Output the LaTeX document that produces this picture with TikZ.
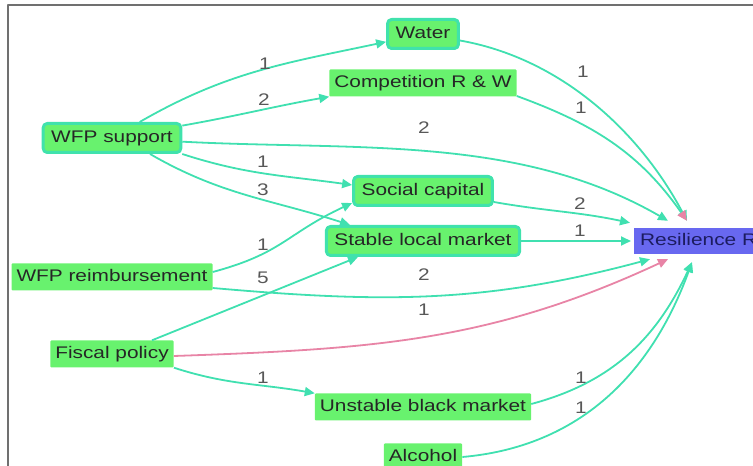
\documentclass[tikz,border=0pt]{standalone}
\usepackage{fontspec}
\setmainfont{Liberation Sans}[FakeStretch=1.24]
\usetikzlibrary{arrows.meta}
\definecolor{factorgreen}{RGB}{104,242,110}
\definecolor{factorrim}{RGB}{64,226,172}
\definecolor{linkteal}{RGB}{64,224,176}
\definecolor{linkpink}{RGB}{232,132,166}
\definecolor{outcomeblue}{RGB}{104,104,240}
\definecolor{outcometext}{RGB}{28,28,96}
\definecolor{weightgray}{RGB}{88,88,88}
\definecolor{framegray}{RGB}{112,112,112}

\begin{document}
\begin{tikzpicture}[x=1pt, y=1pt, line join=round,
  every node/.style={font=\fontsize{16.8}{20}\selectfont},
  factor/.style={fill=factorgreen, text=black!85, rounded corners=1pt,
    inner xsep=5pt, inner ysep=5.5pt, text height=12.5pt, text depth=3.5pt},
  keyfactor/.style={factor, draw=factorrim, line width=3pt,
    rounded corners=4pt, inner xsep=8pt, inner ysep=6.5pt},
  outcome/.style={factor, fill=outcomeblue, text=outcometext,
    rounded corners=0pt, inner xsep=6pt, inner ysep=5pt},
  weight/.style={text=weightgray, inner sep=1pt},
  link/.style={draw=linkteal, line width=1.8pt, -{Triangle[length=10pt,width=9pt]}},
  neglink/.style={link, draw=linkpink}]

\useasboundingbox (0,0) rectangle (753,466);
\draw [framegray, line width=1.5pt] (8,0) -- (8,461) -- (753,461);

\node (water) at (423,432) [keyfactor] {Water};
\node (comp)  at (423,383) [factor] {Competition R \& W};
\node (wfp)   at (112,328) [keyfactor] {WFP support};
\node (soc)   at (423,275) [keyfactor] {Social capital};
\node (stab)  at (423,225) [keyfactor] {Stable local market};
\node (res)   at (634,225) [outcome, anchor=west] {Resilience R};
\node (reimb) at (112,189) [factor] {WFP reimbursement};
\node (fisc)  at (112,112) [factor] {Fiscal policy};
\node (black) at (423,59)  [factor] {Unstable black market};
\node (alc)   at (423,9)   [factor] {Alcohol};

\draw [link] (wfp) to [out=30, in=192] (water);
\draw [link] (wfp) to [out=10, in=190] (comp.south west);
\draw [link] (wfp) to [out=-3, in=150, looseness=0.9] ([xshift=34pt,yshift=7pt]res.north west);
\draw [link] (wfp.south east) to [out=-18, in=172] ([yshift=6pt]soc.west);
\draw [link] ([xshift=38pt]wfp.south) to [out=-30, in=162] ([xshift=-73pt]stab.north);
\draw [link] ([yshift=5pt]reimb.east) to [out=15, in=205, looseness=1.2] ([yshift=-12pt]soc.west);
\draw [link] ([yshift=-11pt]reimb.east) to [out=-5, in=195] ([xshift=16pt,yshift=-5pt]res.south west);
\draw [link] ([xshift=40pt]fisc.north) -- ([xshift=-65pt]stab.south);
\draw [neglink] ([yshift=-2pt]fisc.east) to [out=2, in=205] ([xshift=34pt,yshift=-5pt]res.south west);
\draw [link] (fisc.south east) to [out=-18, in=170] (black.north west);
\draw [link] (water) to [out=-10, in=118, looseness=0.9] ([xshift=53pt,yshift=7pt]res.north west);
\draw [link, -{Triangle[length=10pt,width=9pt,color=linkpink]}] ([yshift=-13pt]comp.east) to [out=-20, in=125] ([xshift=53pt,yshift=7pt]res.north west);
\draw [link] ([yshift=-11pt]soc.east) to [out=-10, in=168] ([xshift=-4pt,yshift=5pt]res.north west);
\draw [link] (stab) -- ([xshift=-3pt]res.west);
\draw [link] ([yshift=3pt]black.east) to [out=15, in=245] ([xshift=58pt,yshift=-8pt]res.south west);
\draw [link] (alc.east) to [out=5, in=250] ([xshift=58pt,yshift=-8pt]res.south west);

\node (w-water) at (265,402) [weight] {1};
\node (w-comp)  at (264,366) [weight] {2};
\node (w-res)   at (424,338) [weight] {2};
\node (w-soc)   at (263,304) [weight] {1};
\node (w-stab)  at (263,276) [weight] {3};
\node (r-soc)   at (263,221) [weight] {1};
\node (f-stab)  at (263,188) [weight] {5};
\node (r-res)   at (424,191) [weight] {2};
\node (f-res)   at (424,156) [weight] {1};
\node (f-black) at (263,88)  [weight] {1};
\node (water-r) at (583,394) [weight] {1};
\node (comp-r)  at (581,358) [weight] {1};
\node (soc-r)   at (580,262) [weight] {2};
\node (stab-r)  at (580,235) [weight] {1};
\node (black-r) at (581,88)  [weight] {1};
\node (alc-r)   at (581,58)  [weight] {1};
\end{tikzpicture}
\end{document}
